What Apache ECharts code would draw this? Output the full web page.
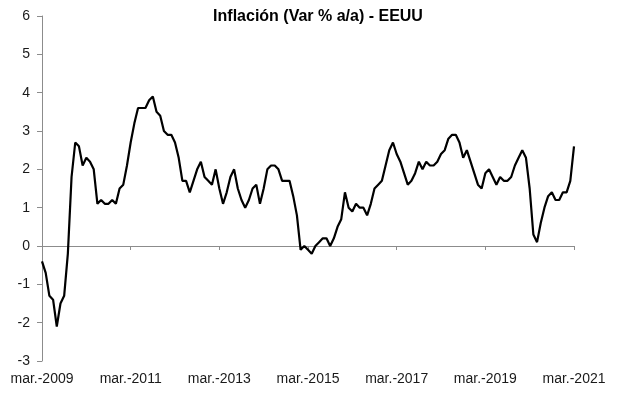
<!DOCTYPE html>
<html>
<head>
<meta charset="utf-8">
<script src="https://cdn.jsdelivr.net/npm/echarts@6/dist/echarts.min.js"></script>
<style>
html,body{margin:0;padding:0;background:#fff;}
#chart{width:617px;height:394px;}
</style>
</head>
<body>
<div id="chart"></div>
<script>
// Month labels (Spanish abbreviations) and years covered
var monthNames = ["ene.","feb.","mar.","abr.","may.","jun.","jul.","ago.","sep.","oct.","nov.","dic."];
var startYear = 2009, startMonth = 2; // mar.-2009
// US CPI inflation, % y/y, monthly from mar.-2009 to mar.-2021
var inflation = [
  -0.4,-0.7,-1.3,-1.4,-2.1,-1.5,-1.3,-0.2,1.8,2.7,
  2.6,2.1,2.3,2.2,2.0,1.1,1.2,1.1,1.1,1.2,1.1,1.5,
  1.6,2.1,2.7,3.2,3.6,3.6,3.6,3.8,3.9,3.5,3.4,3.0,
  2.9,2.9,2.7,2.3,1.7,1.7,1.4,1.7,2.0,2.2,1.8,1.7,
  1.6,2.0,1.5,1.1,1.4,1.8,2.0,1.5,1.2,1.0,1.2,1.5,
  1.6,1.1,1.5,2.0,2.1,2.1,2.0,1.7,1.7,1.7,1.3,0.8,
  -0.1,0.0,-0.1,-0.2,0.0,0.1,0.2,0.2,0.0,0.2,0.5,0.7,
  1.4,1.0,0.9,1.1,1.0,1.0,0.8,1.1,1.5,1.6,1.7,2.1,
  2.5,2.7,2.4,2.2,1.9,1.6,1.7,1.9,2.2,2.0,2.2,2.1,
  2.1,2.2,2.4,2.5,2.8,2.9,2.9,2.7,2.3,2.5,2.2,1.9,
  1.6,1.5,1.9,2.0,1.8,1.6,1.8,1.7,1.7,1.8,2.1,2.3,
  2.5,2.3,1.5,0.3,0.1,0.6,1.0,1.3,1.4,1.2,1.2,1.4,
  1.4,1.7,2.6
];
var yTicks = {min:-3, max:6, step:1};
var title = "Inflación (Var % a/a) - EEUU";

var categories = [];
for (var i = 0; i < inflation.length; i++) {
  var m = (startMonth + i) % 12;
  var y = startYear + Math.floor((startMonth + i) / 12);
  categories.push(monthNames[m] + "-" + y);
}

var chart = echarts.init(document.getElementById('chart'), null, {renderer:'canvas'});
var font = 'Liberation Sans, Arial, sans-serif';
chart.setOption({
  animation:false,
  backgroundColor:'#ffffff',
  title:{
    text:title, left:313, top:4,
    textAlign:'center',
    textStyle:{fontFamily:font, fontSize:16, fontWeight:'bold', color:'#000'}
  },
  grid:{left:42, right:43, top:16, bottom:33, containLabel:false},
  xAxis:[{
    type:'category', data:categories, boundaryGap:false,
    axisLine:{show:true, onZero:true, lineStyle:{color:'#8c8c8c', width:1}},
    axisTick:{show:true, interval:23, length:4, inside:false, lineStyle:{color:'#8c8c8c'}},
    axisLabel:{show:false},
    splitLine:{show:false}
  },{
    type:'category', data:categories, boundaryGap:false, position:'bottom',
    axisLine:{show:false, onZero:false},
    axisTick:{show:false},
    axisLabel:{show:true, interval:23, margin:11, fontFamily:font, fontSize:14, color:'#1a1a1a'},
    splitLine:{show:false}
  }],
  yAxis:{
    type:'value', min:yTicks.min, max:yTicks.max, interval:yTicks.step,
    axisLine:{show:true, lineStyle:{color:'#8c8c8c', width:1}},
    axisTick:{show:true, length:5, lineStyle:{color:'#8c8c8c'}},
    axisLabel:{fontFamily:font, fontSize:14, color:'#1a1a1a', margin:12},
    splitLine:{show:false}
  },
  series:[{
    type:'line', data:inflation, xAxisIndex:0,
    showSymbol:false, symbol:'none',
    lineStyle:{color:'#000', width:2.2},
    smooth:false
  }]
});
</script>
</body>
</html>
